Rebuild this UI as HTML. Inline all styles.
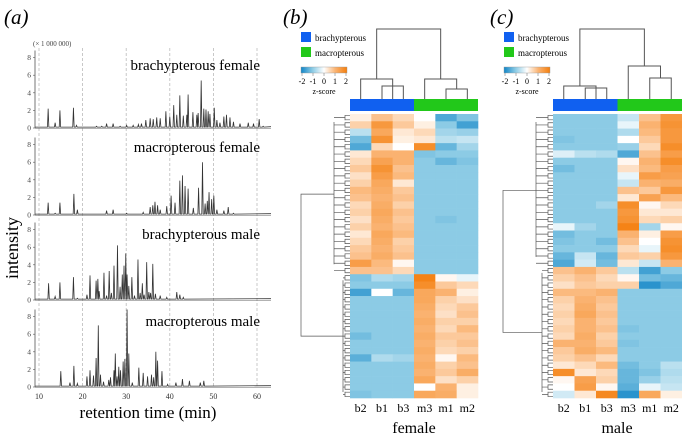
<!DOCTYPE html>
<html><head><meta charset="utf-8"><style>
html,body{margin:0;padding:0;background:#fff;}
svg, svg text{font-family:"Liberation Serif","DejaVu Serif",serif;}
</style></head><body>
<svg id="fig" width="682" height="434" viewBox="0 0 682 434" xmlns="http://www.w3.org/2000/svg" font-family="Liberation Serif, serif">
<text x="4" y="24" font-size="21" font-style="italic">(a)</text>
<text x="283" y="24" font-size="21" font-style="italic">(b)</text>
<text x="490" y="24" font-size="21" font-style="italic">(c)</text>
<text x="33" y="46" font-size="7" fill="#444">(× 1 000 000)</text>
<text transform="translate(18,248) rotate(-90)" font-size="18" text-anchor="middle">intensity</text>
<text x="148" y="418" font-size="17" text-anchor="middle">retention time (min)</text>
<g id="chrom"></g>
<g id="hmB"></g>
<g id="hmC"></g>
<text x="414" y="433" font-size="16" text-anchor="middle">female</text>
<text x="617" y="433" font-size="16" text-anchor="middle">male</text>
</svg>
<script>
const NS="http://www.w3.org/2000/svg";
// ---- chromatogram data (time min, intensity x1e6)
const bfTimes=[12.1,13.7,14.8,17.9,18.6,23.2,24.4,25.5,27.0,28.6,30.1,31.6,32.8,33.5,34.5,35.5,36.2,37.0,37.8,39.1,40.0,40.9,41.6,42.3,43.1,43.9,44.2,45.3,46.2,46.5,47.2,47.8,48.3,48.8,49.2,50.2,50.8,51.5,52.4,53.0,53.8,54.6,56.1,58.0,59.2,60.5,61.4];
const bfVals=[2.2,0.6,2.0,2.3,0.3,0.2,0.2,0.5,0.5,0.2,0.3,0.3,0.4,0.5,0.9,1.1,1.0,1.2,1.1,1.9,1.3,2.6,1.5,3.7,1.4,1.5,3.8,1.8,1.5,1.7,5.4,2.2,2.1,1.9,1.6,2.3,0.9,0.6,1.3,1.5,1.2,0.7,0.5,0.6,0.5,1.0,0.2];
const mfTimes=[12.1,13.7,14.8,18.0,18.8,25.5,27.0,30.1,33.9,35.5,36.1,36.6,37.2,37.8,39.3,40.3,41.2,42.3,42.9,43.5,44.2,45.4,46.6,47.5,48.1,48.6,49.0,49.6,50.1,50.8,52.4,53.4,54.6];
const mfVals=[1.4,0.2,1.4,2.4,0.6,0.5,0.6,0.2,0.3,0.9,1.1,1.5,1.1,0.6,1.0,2.2,1.4,3.9,4.5,3.3,3.0,0.8,3.1,6.0,1.3,1.6,2.6,1.8,2.2,0.6,0.5,0.9,0.2];
const bmTimes=[12.2,13.7,14.8,17.9,18.8,21.0,21.7,23.1,23.5,23.8,24.9,25.5,26.1,26.6,27.2,28.0,28.6,29.1,29.5,29.9,30.2,30.6,31.3,31.9,32.7,33.2,33.7,34.1,34.7,35.2,35.6,36.1,36.7,37.8,39.3,41.6,42.3,43.1];
const bmVals=[1.9,0.4,2.0,2.6,0.2,0.6,2.8,2.2,2.4,1.0,3.1,0.5,3.3,0.8,3.9,6.2,1.5,2.9,3.9,5.3,2.9,1.6,2.6,0.5,4.6,0.8,1.9,0.6,4.3,0.9,0.8,4.1,0.7,0.5,0.3,0.9,0.6,0.3];
const mmTimes=[15.0,17.1,18.0,18.8,21.0,21.7,22.5,23.1,23.6,24.1,24.8,26.0,26.4,27.2,27.5,27.9,28.3,28.7,29.3,29.7,30.2,30.6,31.4,32.9,33.9,34.9,35.8,36.3,36.8,37.2,38.2,39.5,41.4,42.9,44.5,47.0,47.8];
const mmVals=[1.8,0.5,2.4,0.4,1.2,1.9,1.3,3.3,7.0,1.4,0.6,0.8,1.1,1.9,3.8,1.2,2.3,1.9,2.9,3.2,8.8,3.8,0.5,2.2,1.6,1.2,1.4,1.1,4.0,3.0,1.8,0.3,0.5,0.9,0.7,0.5,0.7];
const traceLabels=["brachypterous  female","macropterous  female","brachypterous  male","macropterous  male"];
const xTicks=[10,20,30,40,50,60];
const yTicks=[0,2,4,6,8];

const xS=t=>39+(t-10)*4.36;
const zeros=[128,215,300,387];
const yS=(v,i)=>zeros[i]-v*8.8;
function mk(tag,attrs,parent){const e=document.createElementNS(NS,tag);for(const k in attrs)e.setAttribute(k,attrs[k]);parent.appendChild(e);return e;}
const chrom=document.getElementById('chrom');
xTicks.forEach(t=>{
  const l=mk('line',{x1:xS(t),x2:xS(t),y1:48,y2:387,stroke:'#bbb','stroke-width':0.8,'stroke-dasharray':'3,2'},chrom);
  
  
  const tx=mk('text',{x:xS(t),y:399,'font-size':8,'text-anchor':'middle',fill:'#333'},chrom);tx.textContent=t;
  
  
});
const traces=[[bfTimes,bfVals],[mfTimes,mfVals],[bmTimes,bmVals],[mmTimes,mmVals]];
traces.forEach((tr,i)=>{
  const ax=mk('line',{x1:35,x2:35,y1:yS(8.8,i),y2:zeros[i],stroke:'#555','stroke-width':0.8},chrom);
  
  
  yTicks.forEach(v=>{
    const tx=mk('text',{x:31,y:yS(v,i)+2.5,'font-size':7.5,'text-anchor':'end',fill:'#444'},chrom);tx.textContent=v;
    
    
    mk('line',{x1:33,x2:35,y1:yS(v,i),y2:yS(v,i),stroke:'#555','stroke-width':0.6},chrom);
  });
  const [ts,vs]=tr;
  const idx=ts.map((t,k)=>k).sort((a,b)=>ts[a]-ts[b]);
  let d='M35,'+yS(0.1,i);
  idx.forEach(k=>{const x=xS(ts[k]);d+=` L${x-0.7},${yS(0.1,i)} L${x},${yS(vs[k],i)} L${x+0.7},${yS(0.1,i)}`;});
  d+=` L271,${yS(0.15,i)}`;
  const p=mk('path',{d:d,fill:'none',stroke:'#333','stroke-width':0.8},chrom);
  
  
  mk('line',{x1:35,x2:271,y1:zeros[i]+0.5,y2:zeros[i]+0.5,stroke:'#666','stroke-width':0.6},chrom);
  const lb=mk('text',{x:260,y:[70,152,239,326][i],'font-size':15,'text-anchor':'end','xml:space':'preserve'},chrom);lb.textContent=traceLabels[i];
  
  
});

// ---- heatmap data (z-scores), columns b2,b1,b3,m3,m1,m2
const colLabels=["b2","b1","b3","m3","m1","m2"];
const femaleRows=[
[0.2,0.8,0.5,0,-1.5,-1.1],[0.6,1.5,0.7,0.2,-1.0,-1.6],[-0.6,1.2,0.3,0.5,-0.8,-0.9],[-1.2,1.6,0.2,0.3,-0.6,-0.5],[-1.5,0.5,0.0,1.7,-1.3,-0.8],
[0.3,1.0,1.0,-1.1,-1.0,-1.0],[0.5,1.3,1.0,-1.0,-1.3,-1.1],[0.7,1.6,0.8,-1.0,-1.0,-1.0],[0.4,1.4,0.9,-1.0,-1.0,-1.0],[0.6,1.2,0.3,-1.0,-1.0,-1.0],
[0.9,1.1,0.7,-1.0,-1.0,-1.0],[0.8,1.0,0.8,-1.0,-1.0,-1.0],[0.5,1.1,0.6,-1.0,-1.0,-1.0],[0.6,1.2,0.8,-1.0,-1.0,-1.0],[0.4,1.1,0.7,-1.0,-1.1,-1.0],
[0.6,1.0,0.8,-1.0,-1.0,-1.0],[0.3,1.2,0.9,-1.0,-1.0,-1.0],[0.5,1.1,0.6,-1.0,-1.0,-1.0],[0.7,1.0,0.7,-1.0,-1.0,-1.0],[0.8,1.1,0.8,-1.0,-1.0,-1.0],
[1.4,0.9,0.1,-1.0,-1.0,-1.0],[0.8,0.8,0.5,-1.0,-1.0,-1.0],
[-1.1,-0.7,-0.8,1.9,0.1,-0.2],[-1.0,-1.0,-1.0,1.7,0.7,0.5],[-1.6,0.0,-1.3,1.2,1.0,0.2],[-1.0,-1.0,-1.0,1.2,0.6,0.4],[-1.0,-1.0,-1.0,1.1,0.5,0.7],
[-1.0,-1.0,-1.0,1.0,0.4,0.8],[-1.0,-1.0,-1.0,1.1,0.6,0.6],[-1.0,-1.0,-1.0,1.0,0.5,0.9],[-1.2,-1.0,-1.0,1.1,0.7,0.7],[-1.0,-1.0,-1.0,1.0,0.6,0.8],
[-1.0,-1.0,-1.0,1.1,0.5,0.6],[-1.4,-0.7,-0.8,1.0,0.1,0.9],[-1.0,-1.0,-1.0,1.1,0.6,0.8],[-1.0,-1.0,-1.0,1.0,0.7,1.1],[-1.0,-1.0,-1.0,1.2,0.4,0.6],
[-1.0,-1.0,-1.0,0.0,1.0,0.2],[-1.1,-1.0,-1.0,1.2,1.1,0.2]];
const maleRows=[
[-1.0,-1.0,-1.0,-0.5,0.8,1.5],[-1,-1,-1,-0.2,1.0,1.6],[-1,-1,-1,-0.7,0.9,1.5],[-1.1,-1,-1,0.0,0.7,1.5],[-1,-1,-1,-0.9,0.5,1.7],
[-0.3,-0.6,-0.7,-1.5,0.8,1.4],[-1,-1,-1,0.1,1.0,1.7],[-1.2,-1,-1,0.4,0.9,1.4],[-1,-1,-1,-0.2,1.4,1.3],[-1,-1,-1,-0.5,1.0,1.1],
[-1,-1,-1,0.8,0.7,1.5],[-1,-1,-1,0.3,1.3,0.9],[-1,-1,-0.8,1.7,0.1,0.5],[-1,-1,-1,1.5,0.3,0.3],[-1,-1,-1,1.6,0.5,0.6],
[-0.2,-0.8,-1,1.9,-0.8,0.1],[-1.2,-1,-1,1.0,0.2,1.4],[-1.1,-1,-1.2,0.8,0.0,1.6],[-1,-1,-1,0.5,-0.2,1.7],[-1.3,-0.5,-1.3,0.7,0.6,1.5],
[-1.5,-0.4,-1.2,0.3,-0.5,1.0],
[0.8,1.0,0.7,-0.6,-1.6,-1.0],[0.6,0.8,0.5,0.1,-1.2,-1.3],[0.4,0.7,0.6,0.6,-1.8,-1.5],[0.9,0.9,1.0,-1.0,-1.0,-1.0],[0.6,1.0,0.8,-1,-1,-1],
[0.5,1.1,0.7,-1,-1,-1],[0.6,1.2,0.8,-1,-1,-1],[0.5,1.0,0.7,-1,-1,-1],[0.6,1.0,0.8,-1.1,-1,-1],[0.5,1.1,0.6,-1,-1,-1],
[1.0,1.0,0.7,-1.1,-1,-1],[0.7,1.1,0.9,-1,-1,-1],[0.6,0.8,0.5,-1,-1,-1],[0.3,0.5,0.9,-1.2,-1.0,-0.6],[1.7,0.3,0.5,-1.3,-1.1,-0.7],
[0.1,1.3,0.6,-1.3,-0.9,-0.6],[0.0,1.4,0.1,-1.4,-0.2,-0.5],[-0.4,0.3,1.8,-1.8,1.2,0.2]];

const stops=[[-2,[17,133,199]],[-1,[140,203,229]],[0,[255,255,255]],[1,[250,178,112]],[2,[244,126,12]]];
function col(v){v=Math.max(-2,Math.min(2,v));for(let i=0;i<4;i++){const[a,ca]=stops[i],[b,cb]=stops[i+1];if(v<=b){const f=(v-a)/(b-a);return 'rgb('+ca.map((c,k)=>Math.round(c+(cb[k]-c)*f)).join(',')+')';}}}

function heat(gid,rows,x0,x1,split,dendroX,leafX,colDen){
  const g=document.getElementById(gid);
  const cw=(x1-x0)/6,y0=114,y1=398,rh=(y1-y0)/rows.length;
  rows.forEach((r,ri)=>r.forEach((v,ci)=>{
    const c=mk('rect',{x:x0+ci*cw,y:y0+ri*rh,width:cw+0.3,height:rh+0.3,fill:col(v)},g);
    
    
  }));
  const gb=mk('rect',{x:x0,y:99,width:cw*3,height:12,fill:'#1060f0'},g);
  
  
  const gm=mk('rect',{x:x0+cw*3,y:99,width:cw*3,height:12,fill:'#22c81a'},g);
  
  
  colLabels.forEach((l,ci)=>{const t=mk('text',{x:x0+(ci+0.5)*cw,y:412,'font-size':12,'text-anchor':'middle'},g);t.textContent=l;
    
    });
  const L=ci=>x0+(ci+0.5)*cw;
  const cd=mk('path',{d:colDen(L),fill:'none',stroke:'#555','stroke-width':1},g);
  
  
  const ns=split;
  let d='';
  const topMid=y0+ns*rh/2, botMid=y0+ns*rh+(rows.length-ns)*rh/2;
  d+=`M${dendroX[1]},${topMid} H${dendroX[0]} V${botMid} H${dendroX[2]}`;
  d+=`M${dendroX[1]},${y0+8} V${y0+ns*rh-10} M${dendroX[2]},${y0+ns*rh+6} V${y1-6}`;
  rows.forEach((r,ri)=>{const y=y0+(ri+0.5)*rh;const bx=ri<ns?dendroX[1]:dendroX[2];
    d+=`M${bx},${y} H${leafX-4} M${leafX-4},${y-rh*0.35} V${y+rh*0.35} M${leafX-4},${y-rh*0.3} H${x0} M${leafX-4},${y+rh*0.3} H${x0}`;});
  const rd=mk('path',{d:d,fill:'none',stroke:'#555','stroke-width':0.7},g);
  
  
  const lx=x0-49;
  const s1=mk('rect',{x:lx,y:32,width:10,height:10,fill:'#1060f0'},g);
  
  
  const s2=mk('rect',{x:lx,y:47,width:10,height:10,fill:'#22c81a'},g);
  
  
  const t1=mk('text',{x:lx+14,y:41,'font-size':9},g);t1.textContent='brachypterous';
  
  
  const t2=mk('text',{x:lx+14,y:56,'font-size':9},g);t2.textContent='macropterous';
  
  
  const id='gr'+gid;
  const defs=mk('defs',{},g);const lg=mk('linearGradient',{id:id},defs);
  stops.forEach(s=>mk('stop',{offset:((s[0]+2)/4*100)+'%','stop-color':'rgb('+s[1].join(',')+')'},lg));
  const cb=mk('rect',{x:lx,y:67,width:46,height:6,fill:'url(#'+id+')',stroke:'#999','stroke-width':0.4},g);
  
  
  ['-2','-1','0','1','2'].forEach((s,k)=>{const t=mk('text',{x:lx+1+k*11,y:84,'font-size':8,'text-anchor':'middle'},g);t.textContent=s;
    
    
    mk('line',{x1:lx+1+k*11,x2:lx+1+k*11,y1:73,y2:76,stroke:'#666','stroke-width':0.5},g);});
  const zs=mk('text',{x:lx+23,y:94,'font-size':8,'text-anchor':'middle'},g);zs.textContent='z-score';
  
  
}
heat('hmB',femaleRows,350,478,22,[301,334,343],349,L=>
 `M${L(0)},99 V79 H${(L(1)+L(2))/2} V99 M${L(1)},99 V86 H${L(2)} V99 M${(L(0)+(L(1)+L(2))/2)/2},79 V29 H${(L(3)+(L(4)+L(5))/2)/2} V79 M${L(3)},99 V79 H${(L(4)+L(5))/2} V89 M${L(4)},99 V89 H${L(5)} V99`);
heat('hmC',maleRows,553,682,21,[503,536,542],552,L=>
 `M${L(0)},99 V86 H${(L(1)+L(2))/2} V99 M${L(1)},99 V88 H${L(2)} V99 M${(L(0)+(L(1)+L(2))/2)/2},86 V29 H${(L(3)+(L(4)+L(5))/2)/2} V66 M${L(3)},99 V66 H${(L(4)+L(5))/2} V78 M${L(4)},99 V78 H${L(5)} V99`);
</script>
</body></html>
